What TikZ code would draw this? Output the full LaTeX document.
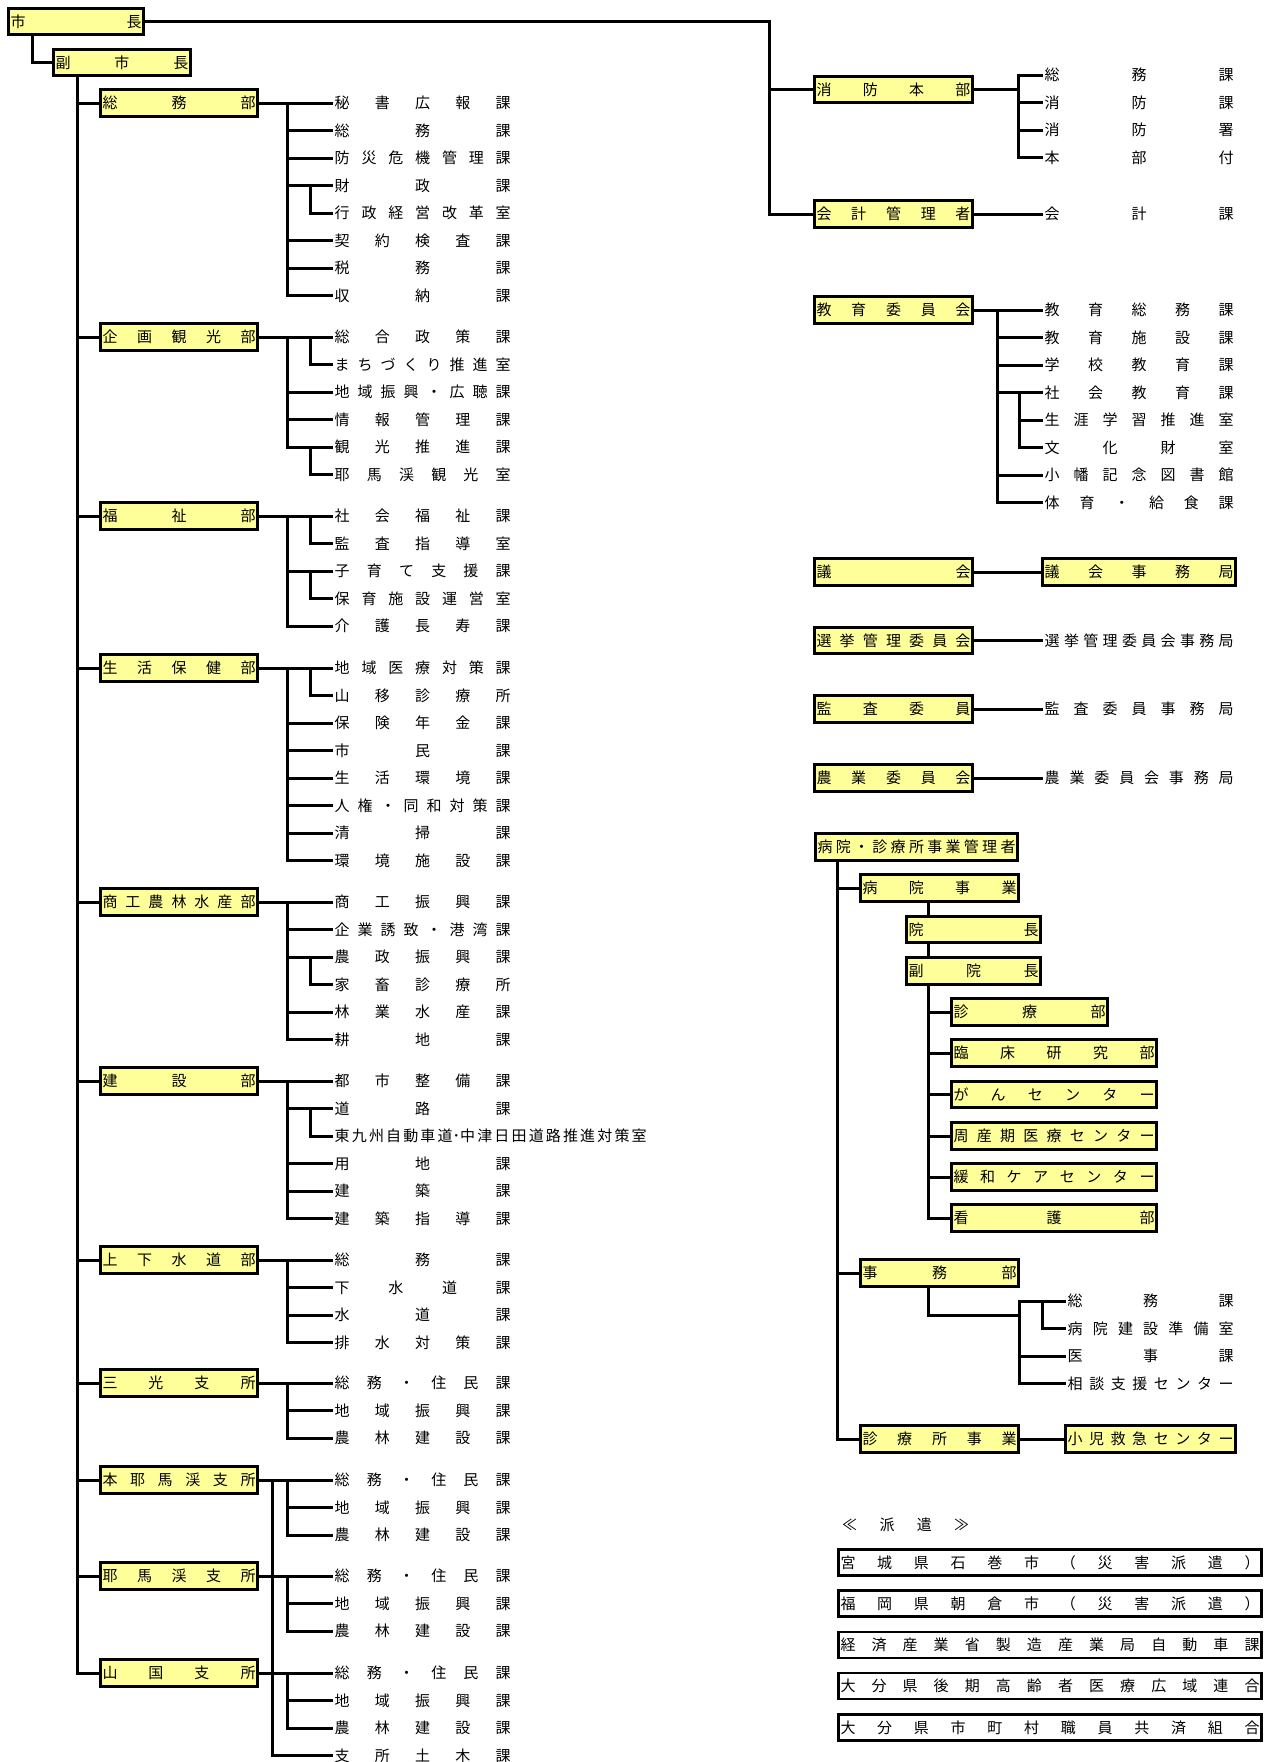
\documentclass[tikz,border=0pt]{standalone}
\usepackage{fontspec}
\newfontfamily\cjk{Noto Sans CJK JP}
\definecolor{yfill}{HTML}{FFFF99}
\newcommand\dsp[2]{\makebox[#1][s]{\spaceskip=0pt plus 1fil\relax #2}}
\newcommand\YB[6][ybox]{\node[#1, minimum width=#5pt-3pt] (#2) at (#3,#4) {\dsp{\dimexpr#5pt-7pt\relax}{#6}};}
\newcommand\LL[3]{\node[lab] (#1) at (332.5,#2) {\dsp{176pt}{#3}};}
\newcommand\RL[3]{\node[lab] (#1) at (1042.5,#2) {\dsp{189pt}{#3}};}
\newcommand\JL[3]{\node[lab] (#1) at (1065.5,#2) {\dsp{166pt}{#3}};}
\begin{document}
\begin{tikzpicture}[x=1pt,y=-1pt,
  every node/.style={font=\cjk\fontsize{15pt}{18pt}\selectfont, text height=13.2pt, text depth=1.8pt},
  ybox/.style={draw, line width=2.6pt, fill=yfill, minimum height=26.5pt, inner sep=0pt},
  wbox/.style={draw, line width=2.6pt, fill=white, minimum height=26pt, inner sep=0pt},
  lab/.style={inner xsep=2pt, inner ysep=0pt, anchor=west},
  conn/.style={line width=3pt}]
\useasboundingbox (0,0) rectangle (1267,1762);
\coordinate (cA) at (32,0);
\coordinate (tr) at (77,0);
\coordinate (bx) at (287,0);
\coordinate (sx) at (310,0);
\coordinate (kx) at (272,0);
\coordinate (rx) at (769,0);
\coordinate (fbx) at (1018,0);
\coordinate (ebx) at (997,0);
\coordinate (esx) at (1019,0);
\coordinate (hx) at (837,0);
\coordinate (ix) at (928,0);
\coordinate (jbx) at (1019,0);
\coordinate (jsx) at (1042,0);
\coordinate (jm) at (0,1315);

% ---------- left column ----------
\YB{shicho}{76}{21.5}{138}{市 長}
\YB{fuku}{122}{62.5}{140}{副 市 長}
\YB{somu}{179}{103}{160}{総 務 部}
\YB{kikaku}{179}{337}{160}{企 画 観 光 部}
\YB{fukushi}{179}{516}{160}{福 祉 部}
\YB{seikatsu}{179}{668}{160}{生 活 保 健 部}
\YB{shoko}{179}{902}{160}{商 工 農 林 水 産 部}
\YB{kensetsu}{179}{1081}{160}{建 設 部}
\YB{jogesui}{179}{1260}{160}{上 下 水 道 部}
\YB{sanko}{179}{1383}{160}{三 光 支 所}
\YB{honya}{179}{1480}{160}{本 耶 馬 渓 支 所}
\YB{yaba}{179}{1576}{160}{耶 馬 渓 支 所}
\YB{yamaguni}{179}{1673}{160}{山 国 支 所}

\draw[conn] (cA |- shicho.south) |- (fuku.west);
\draw[conn] (tr |- fuku.south) |- (yamaguni.west);
\foreach \n in {somu,kikaku,fukushi,seikatsu,shoko,kensetsu,jogesui,sanko,honya,yaba}
  \draw[conn] (tr |- \n.west) -- (\n.west);

% 総務部
\LL{a0}{103}{秘 書 広 報 課}
\LL{a1}{130.5}{総 務 課}
\LL{a2}{158}{防 災 危 機 管 理 課}
\LL{a3}{185.5}{財 政 課}
\LL{a4}{213}{行 政 経 営 改 革 室}
\LL{a5}{240.5}{契 約 検 査 課}
\LL{a6}{268}{税 務 課}
\LL{a7}{295.5}{収 納 課}
\draw[conn] (somu.east) -- (a0.west);
\draw[conn] (bx |- a0.west) |- (a7.west);
\foreach \n in {a1,a2,a3,a5,a6} \draw[conn] (bx |- \n.west) -- (\n.west);
\draw[conn] (sx |- a3.west) |- (a4.west);

% 企画観光部
\LL{b0}{337}{総 合 政 策 課}
\LL{b1}{364.5}{ま ち づ く り 推 進 室}
\LL{b2}{392}{地 域 振 興 ・ 広 聴 課}
\LL{b3}{419.5}{情 報 管 理 課}
\LL{b4}{447}{観 光 推 進 課}
\LL{b5}{474.5}{耶 馬 渓 観 光 室}
\draw[conn] (kikaku.east) -- (b0.west);
\draw[conn] (bx |- b0.west) |- (b4.west);
\foreach \n in {b2,b3} \draw[conn] (bx |- \n.west) -- (\n.west);
\draw[conn] (sx |- b0.west) |- (b1.west);
\draw[conn] (sx |- b4.west) |- (b5.west);

% 福祉部
\LL{c0}{516}{社 会 福 祉 課}
\LL{c1}{543.5}{監 査 指 導 室}
\LL{c2}{571}{子 育 て 支 援 課}
\LL{c3}{598.5}{保 育 施 設 運 営 室}
\LL{c4}{626}{介 護 長 寿 課}
\draw[conn] (fukushi.east) -- (c0.west);
\draw[conn] (bx |- c0.west) |- (c4.west);
\draw[conn] (bx |- c2.west) -- (c2.west);
\draw[conn] (sx |- c0.west) |- (c1.west);
\draw[conn] (sx |- c2.west) |- (c3.west);

% 生活保健部
\LL{d0}{668}{地 域 医 療 対 策 課}
\LL{d1}{695.5}{山 移 診 療 所}
\LL{d2}{723}{保 険 年 金 課}
\LL{d3}{750.5}{市 民 課}
\LL{d4}{778}{生 活 環 境 課}
\LL{d5}{805.5}{人 権 ・ 同 和 対 策 課}
\LL{d6}{833}{清 掃 課}
\LL{d7}{860.5}{環 境 施 設 課}
\draw[conn] (seikatsu.east) -- (d0.west);
\draw[conn] (bx |- d0.west) |- (d7.west);
\foreach \n in {d2,d3,d4,d5,d6} \draw[conn] (bx |- \n.west) -- (\n.west);
\draw[conn] (sx |- d0.west) |- (d1.west);

% 商工農林水産部
\LL{g0}{902}{商 工 振 興 課}
\LL{g1}{929.5}{企 業 誘 致 ・ 港 湾 課}
\LL{g2}{957}{農 政 振 興 課}
\LL{g3}{984.5}{家 畜 診 療 所}
\LL{g4}{1012}{林 業 水 産 課}
\LL{g5}{1039.5}{耕 地 課}
\draw[conn] (shoko.east) -- (g0.west);
\draw[conn] (bx |- g0.west) |- (g5.west);
\foreach \n in {g1,g2,g4} \draw[conn] (bx |- \n.west) -- (\n.west);
\draw[conn] (sx |- g2.west) |- (g3.west);

% 建設部
\LL{h0}{1081}{都 市 整 備 課}
\LL{h1}{1108.5}{道 路 課}
\node[lab] (h2) at (332.5,1136) {\dsp{312pt}{東 九 州 自 動 車 道･中 津 日 田 道 路 推 進 対 策 室}};
\LL{h3}{1163.5}{用 地 課}
\LL{h4}{1191}{建 築 課}
\LL{h5}{1218.5}{建 築 指 導 課}
\draw[conn] (kensetsu.east) -- (h0.west);
\draw[conn] (bx |- h0.west) |- (h5.west);
\foreach \n in {h1,h3,h4} \draw[conn] (bx |- \n.west) -- (\n.west);
\draw[conn] (sx |- h1.west) |- (h2.west);

% 上下水道部
\LL{i0}{1260}{総 務 課}
\LL{i1}{1287.5}{下 水 道 課}
\LL{i2}{1315}{水 道 課}
\LL{i3}{1342.5}{排 水 対 策 課}
\draw[conn] (jogesui.east) -- (i0.west);
\draw[conn] (bx |- i0.west) |- (i3.west);
\foreach \n in {i1,i2} \draw[conn] (bx |- \n.west) -- (\n.west);

% 三光支所
\LL{m0}{1383}{総 務 ・ 住 民 課}
\LL{m1}{1410.5}{地 域 振 興 課}
\LL{m2}{1438}{農 林 建 設 課}
\draw[conn] (sanko.east) -- (m0.west);
\draw[conn] (bx |- m0.west) |- (m2.west);
\draw[conn] (bx |- m1.west) -- (m1.west);

% 本耶馬渓支所
\LL{n0}{1480}{総 務 ・ 住 民 課}
\LL{n1}{1507.5}{地 域 振 興 課}
\LL{n2}{1535}{農 林 建 設 課}
\draw[conn] (honya.east) -- (n0.west);
\draw[conn] (bx |- n0.west) |- (n2.west);
\draw[conn] (bx |- n1.west) -- (n1.west);

% 耶馬渓支所
\LL{o0}{1576}{総 務 ・ 住 民 課}
\LL{o1}{1603.5}{地 域 振 興 課}
\LL{o2}{1631}{農 林 建 設 課}
\draw[conn] (yaba.east) -- (o0.west);
\draw[conn] (bx |- o0.west) |- (o2.west);
\draw[conn] (bx |- o1.west) -- (o1.west);

% 山国支所
\LL{p0}{1673}{総 務 ・ 住 民 課}
\LL{p1}{1700.5}{地 域 振 興 課}
\LL{p2}{1728}{農 林 建 設 課}
\LL{p3}{1755.5}{支 所 土 木 課}
\draw[conn] (yamaguni.east) -- (p0.west);
\draw[conn] (bx |- p0.west) |- (p2.west);
\draw[conn] (bx |- p1.west) -- (p1.west);
\draw[conn] (kx |- n0.west) |- (p3.west);

% ---------- right column ----------
\YB{shobo}{893.5}{89.5}{161}{消 防 本 部}
\YB{kaikei}{893.5}{214}{161}{会 計 管 理 者}
\draw[conn] (shicho.east) -| (rx |- kaikei.west) -- (kaikei.west);
\draw[conn] (rx |- shobo.west) -- (shobo.west);

\RL{f0}{75}{総 務 課}
\RL{f1}{102.5}{消 防 課}
\RL{f2}{130}{消 防 署}
\RL{f3}{157.5}{本 部 付}
\draw[conn] (shobo.east) -- (fbx |- shobo.east);
\draw[conn] (f0.west) -| (fbx |- f3.west) -- (f3.west);
\foreach \n in {f1,f2} \draw[conn] (fbx |- \n.west) -- (\n.west);

\RL{k0}{214}{会 計 課}
\draw[conn] (kaikei.east) -- (k0.west);

\YB{kyoiku}{893.5}{310}{161}{教 育 委 員 会}
\RL{e0}{310}{教 育 総 務 課}
\RL{e1}{337.5}{教 育 施 設 課}
\RL{e2}{365}{学 校 教 育 課}
\RL{e3}{392.5}{社 会 教 育 課}
\RL{e4}{420}{生 涯 学 習 推 進 室}
\RL{e5}{447.5}{文 化 財 室}
\RL{e6}{475}{小 幡 記 念 図 書 館}
\RL{e7}{502.5}{体 育 ・ 給 食 課}
\draw[conn] (kyoiku.east) -- (e0.west);
\draw[conn] (ebx |- e0.west) |- (e7.west);
\foreach \n in {e1,e2,e3,e6} \draw[conn] (ebx |- \n.west) -- (\n.west);
\draw[conn] (esx |- e3.west) |- (e5.west);
\draw[conn] (esx |- e4.west) -- (e4.west);

\YB{gikai}{893.5}{572}{161}{議 会}
\YB{gikaij}{1139}{572}{196}{議 会 事 務 局}
\draw[conn] (gikai.east) -- (gikaij.west);

\YB{senkyo}{893.5}{640.5}{161}{選 挙 管 理 委 員 会}
\RL{sl}{640.5}{選 挙 管 理 委 員 会 事 務 局}
\draw[conn] (senkyo.east) -- (sl.west);

\YB{kansa}{893.5}{709}{161}{監 査 委 員}
\RL{kl}{709}{監 査 委 員 事 務 局}
\draw[conn] (kansa.east) -- (kl.west);

\YB{nogyo}{893.5}{778}{161}{農 業 委 員 会}
\RL{nl}{778}{農 業 委 員 会 事 務 局}
\draw[conn] (nogyo.east) -- (nl.west);

% hospital
\YB{mgr}{916.5}{847}{205}{病 院 ・ 診 療 所 事 業 管 理 者}
\YB{byoin}{939.5}{888}{161}{病 院 事 業}
\YB{incho}{973.5}{929.5}{137}{院 長}
\YB{fukuin}{973.5}{971}{137}{副 院 長}
\YB{shinryo}{1029.5}{1012}{159}{診 療 部}
\YB{rinsho}{1054}{1053}{208}{臨 床 研 究 部}
\YB{gan}{1054}{1094.5}{208}{が ん セ ン タ ー}
\YB{shusan}{1054}{1136}{208}{周 産 期 医 療 セ ン タ ー}
\YB{kanwa}{1054}{1177}{208}{緩 和 ケ ア セ ン タ ー}
\YB{kango}{1054}{1218}{208}{看 護 部}
\YB{jimu}{939.5}{1273}{161}{事 務 部}
\YB{shinryojo}{939.5}{1439}{161}{診 療 所 事 業}
\YB{shoni}{1150.5}{1439}{173}{小 児 救 急 セ ン タ ー}

\draw[conn] (hx |- mgr.south) |- (shinryojo.west);
\draw[conn] (hx |- byoin.west) -- (byoin.west);
\draw[conn] (hx |- jimu.west) -- (jimu.west);
\draw[conn] (ix |- byoin.south) -- (ix |- incho.north);
\draw[conn] (ix |- incho.south) -- (ix |- fukuin.north);
\draw[conn] (ix |- fukuin.south) |- (kango.west);
\foreach \n in {shinryo,rinsho,gan,shusan,kanwa} \draw[conn] (ix |- \n.west) -- (\n.west);

\JL{j0}{1301}{総 務 課}
\JL{j1}{1328.5}{病 院 建 設 準 備 室}
\JL{j2}{1356}{医 事 課}
\JL{j3}{1383.5}{相 談 支 援 セ ン タ ー}
\draw[conn] (ix |- jimu.south) |- (jbx |- jm);
\draw[conn] (j0.west) -| (jbx |- j3.west) -- (j3.west);
\draw[conn] (jbx |- j2.west) -- (j2.west);
\draw[conn] (jsx |- j0.west) |- (j1.west);
\draw[conn] (shinryojo.east) -- (shoni.west);

% haken
\node[lab] (haken) at (840,1525) {\dsp{127pt}{≪ 派 遣 ≫}};
\YB[wbox]{w1}{1050}{1562.5}{426}{宮 城 県 石 巻 市 （ 災 害 派 遣 ）}
\YB[wbox]{w2}{1050}{1603.5}{426}{福 岡 県 朝 倉 市 （ 災 害 派 遣 ）}
\YB[wbox]{w3}{1050}{1645}{426}{経 済 産 業 省 製 造 産 業 局 自 動 車 課}
\YB[wbox]{w4}{1050}{1686}{426}{大 分 県 後 期 高 齢 者 医 療 広 域 連 合}
\YB[wbox]{w5}{1050}{1727.5}{426}{大 分 県 市 町 村 職 員 共 済 組 合}
\end{tikzpicture}
\end{document}
